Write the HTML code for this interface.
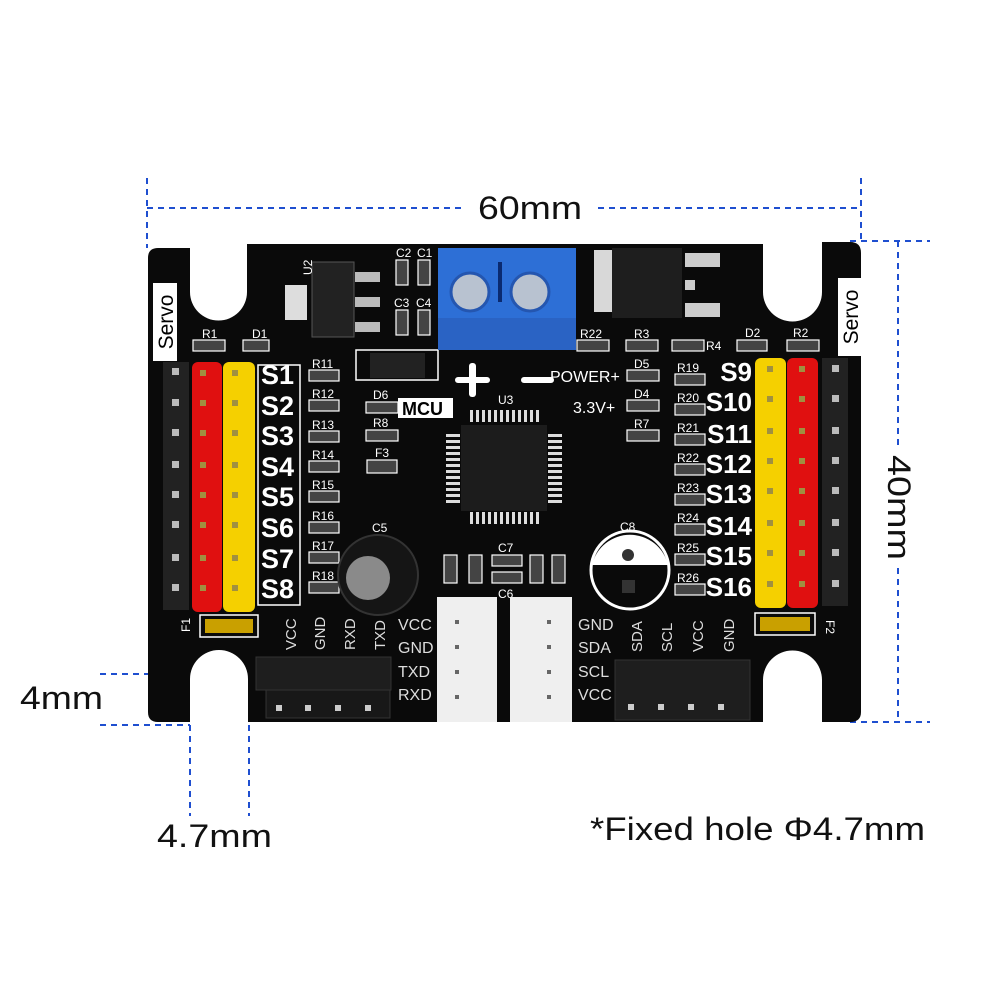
<!DOCTYPE html>
<html><head><meta charset="utf-8"><style>
html,body{margin:0;padding:0;background:#fff;}
svg{display:block;}
text{font-family:"Liberation Sans",sans-serif;}
</style></head><body>
<svg width="1000" height="1000" viewBox="0 0 1000 1000" xmlns="http://www.w3.org/2000/svg">
<rect width="1000" height="1000" fill="#fff"/>
<!-- dimension lines -->
<g stroke="#1f4fd0" stroke-width="2" stroke-dasharray="6,5" fill="none">
<line x1="147" y1="178" x2="147" y2="248"/>
<line x1="861" y1="178" x2="861" y2="242"/>
<line x1="147" y1="208" x2="462" y2="208"/>
<line x1="598" y1="208" x2="861" y2="208"/>
<line x1="850" y1="241" x2="930" y2="241"/>
<line x1="850" y1="722" x2="930" y2="722"/>
<line x1="898" y1="241" x2="898" y2="450"/>
<line x1="898" y1="568" x2="898" y2="722"/>
<line x1="100" y1="674" x2="190" y2="674"/>
<line x1="100" y1="725" x2="190" y2="725"/>
<line x1="190" y1="725" x2="190" y2="816"/>
<line x1="249" y1="725" x2="249" y2="816"/>
</g>
<g fill="#111" font-size="32">
<text x="478" y="219" textLength="104" lengthAdjust="spacingAndGlyphs">60mm</text>
<text x="20" y="709" textLength="83" lengthAdjust="spacingAndGlyphs">4mm</text>
<text x="157" y="847" textLength="115" lengthAdjust="spacingAndGlyphs">4.7mm</text>
<text x="590" y="840" textLength="335" lengthAdjust="spacingAndGlyphs">*Fixed hole Φ4.7mm</text>
<text transform="translate(888,455) rotate(90)" textLength="105" lengthAdjust="spacingAndGlyphs">40mm</text>
</g>
<!-- board -->
<path d="M158,248 H190 V292 A28,28 0 0 0 247,292 V244 H763 V292 A29.5,29.5 0 0 0 822,292 V242 H850 Q861,242 861,253 V712 Q861,722 850,722 H822 V680 A29.5,29.5 0 0 0 763,680 V722 H248 V679 A29,29 0 0 0 190,679 V722 H158 Q148,722 148,712 V258 Q148,248 158,248 Z" fill="#0a0a0a"/>
<!-- servo labels -->
<rect x="153" y="283" width="24" height="78" fill="#fff"/>
<text transform="translate(173,322) rotate(-90)" text-anchor="middle" font-size="21" fill="#000">Servo</text>
<rect x="838" y="278" width="24" height="78" fill="#fff"/>
<text transform="translate(858,317) rotate(-90)" text-anchor="middle" font-size="21" fill="#000">Servo</text>
<!-- left headers -->
<rect x="163" y="362" width="26" height="248" fill="#222"/>
<rect x="192" y="362" width="30" height="250" rx="6" fill="#e01010"/>
<rect x="223" y="362" width="32" height="250" rx="6" fill="#f5d000"/>
<g fill="#bbb">
<rect x="172" y="368" width="7" height="7"/><rect x="172" y="399" width="7" height="7"/><rect x="172" y="429" width="7" height="7"/><rect x="172" y="461" width="7" height="7"/><rect x="172" y="491" width="7" height="7"/><rect x="172" y="521" width="7" height="7"/><rect x="172" y="554" width="7" height="7"/><rect x="172" y="584" width="7" height="7"/>
</g>
<g fill="#a09040">
<rect x="200" y="370" width="6" height="6"/><rect x="200" y="400" width="6" height="6"/><rect x="200" y="430" width="6" height="6"/><rect x="200" y="462" width="6" height="6"/><rect x="200" y="492" width="6" height="6"/><rect x="200" y="522" width="6" height="6"/><rect x="200" y="555" width="6" height="6"/><rect x="200" y="585" width="6" height="6"/>
<rect x="232" y="370" width="6" height="6"/><rect x="232" y="400" width="6" height="6"/><rect x="232" y="430" width="6" height="6"/><rect x="232" y="462" width="6" height="6"/><rect x="232" y="492" width="6" height="6"/><rect x="232" y="522" width="6" height="6"/><rect x="232" y="555" width="6" height="6"/><rect x="232" y="585" width="6" height="6"/>
</g>
<g fill="#fff" font-size="27" font-weight="bold">
<text x="261" y="384">S1</text><text x="261" y="415">S2</text><text x="261" y="445">S3</text><text x="261" y="476">S4</text><text x="261" y="506">S5</text><text x="261" y="537">S6</text><text x="261" y="568">S7</text><text x="261" y="598">S8</text>
</g>
<g stroke="#fff" stroke-width="1.5" fill="none"><rect x="258" y="365" width="42" height="240"/></g>
<!-- right headers -->
<rect x="755" y="358" width="31" height="250" rx="6" fill="#f5d000"/>
<rect x="787" y="358" width="31" height="250" rx="6" fill="#e01010"/>
<rect x="822" y="358" width="26" height="248" fill="#222"/>
<g fill="#bbb">
<rect x="832" y="365" width="7" height="7"/><rect x="832" y="395" width="7" height="7"/><rect x="832" y="427" width="7" height="7"/><rect x="832" y="457" width="7" height="7"/><rect x="832" y="487" width="7" height="7"/><rect x="832" y="519" width="7" height="7"/><rect x="832" y="549" width="7" height="7"/><rect x="832" y="580" width="7" height="7"/>
</g>
<g fill="#a09040">
<rect x="767" y="366" width="6" height="6"/><rect x="767" y="396" width="6" height="6"/><rect x="767" y="428" width="6" height="6"/><rect x="767" y="458" width="6" height="6"/><rect x="767" y="488" width="6" height="6"/><rect x="767" y="520" width="6" height="6"/><rect x="767" y="550" width="6" height="6"/><rect x="767" y="581" width="6" height="6"/>
<rect x="799" y="366" width="6" height="6"/><rect x="799" y="396" width="6" height="6"/><rect x="799" y="428" width="6" height="6"/><rect x="799" y="458" width="6" height="6"/><rect x="799" y="488" width="6" height="6"/><rect x="799" y="520" width="6" height="6"/><rect x="799" y="550" width="6" height="6"/><rect x="799" y="581" width="6" height="6"/>
</g>
<g fill="#fff" font-size="26" font-weight="bold" text-anchor="end">
<text x="752" y="381">S9</text><text x="752" y="411">S10</text><text x="752" y="443">S11</text><text x="752" y="473">S12</text><text x="752" y="503">S13</text><text x="752" y="535">S14</text><text x="752" y="565">S15</text><text x="752" y="596">S16</text>
</g>
<!-- resistors -->
<g fill="#444" stroke="#fff" stroke-width="1.2">
<rect x="309" y="370" width="30" height="11"/><rect x="309" y="400" width="30" height="11"/><rect x="309" y="431" width="30" height="11"/><rect x="309" y="461" width="30" height="11"/><rect x="309" y="491" width="30" height="11"/><rect x="309" y="522" width="30" height="11"/><rect x="309" y="552" width="30" height="11"/><rect x="309" y="582" width="30" height="11"/>
<rect x="675" y="374" width="30" height="11"/><rect x="675" y="404" width="30" height="11"/><rect x="675" y="434" width="30" height="11"/><rect x="675" y="464" width="30" height="11"/><rect x="675" y="494" width="30" height="11"/><rect x="675" y="524" width="30" height="11"/><rect x="675" y="554" width="30" height="11"/><rect x="675" y="584" width="30" height="11"/>
<rect x="193" y="340" width="32" height="11"/><rect x="243" y="340" width="26" height="11"/>
<rect x="737" y="340" width="30" height="11"/><rect x="787" y="340" width="32" height="11"/>
<rect x="577" y="340" width="32" height="11"/><rect x="626" y="340" width="32" height="11"/><rect x="672" y="340" width="32" height="11"/>
<rect x="627" y="370" width="32" height="11"/><rect x="627" y="400" width="32" height="11"/><rect x="627" y="430" width="32" height="11"/>
<rect x="366" y="402" width="32" height="11"/><rect x="366" y="430" width="32" height="11"/><rect x="367" y="460" width="30" height="13"/>
<rect x="396" y="260" width="12" height="25"/><rect x="418" y="260" width="12" height="25"/><rect x="396" y="310" width="12" height="25"/><rect x="418" y="310" width="12" height="25"/>
<rect x="444" y="555" width="13" height="28"/><rect x="469" y="555" width="13" height="28"/><rect x="530" y="555" width="13" height="28"/><rect x="552" y="555" width="13" height="28"/>
<rect x="492" y="555" width="30" height="11"/><rect x="492" y="572" width="30" height="11"/>
</g>
<g fill="#fff" font-size="12">
<text x="312" y="368">R11</text><text x="312" y="398">R12</text><text x="312" y="429">R13</text><text x="312" y="459">R14</text><text x="312" y="489">R15</text><text x="312" y="520">R16</text><text x="312" y="550">R17</text><text x="312" y="580">R18</text>
<text x="677" y="372">R19</text><text x="677" y="402">R20</text><text x="677" y="432">R21</text><text x="677" y="462">R22</text><text x="677" y="492">R23</text><text x="677" y="522">R24</text><text x="677" y="552">R25</text><text x="677" y="582">R26</text>
<text x="202" y="338">R1</text><text x="252" y="338">D1</text><text x="745" y="337">D2</text><text x="793" y="337">R2</text>
<text x="580" y="338">R22</text><text x="634" y="338">R3</text><text x="706" y="350">R4</text>
<text x="634" y="368">D5</text><text x="634" y="398">D4</text><text x="634" y="428">R7</text>
<text x="373" y="399">D6</text><text x="373" y="427">R8</text><text x="375" y="457">F3</text>
<text x="396" y="257">C2</text><text x="417" y="257">C1</text><text x="394" y="307">C3</text><text x="416" y="307">C4</text>
<text x="498" y="404">U3</text><text x="372" y="532">C5</text><text x="620" y="531">C8</text>
<text x="498" y="552">C7</text><text x="498" y="598">C6</text>
</g>
<g fill="#fff" font-size="16">
<text x="550" y="382">POWER+</text><text x="573" y="413">3.3V+</text>
</g>
<rect x="398" y="398" width="55" height="20" fill="#fff"/>
<text x="402" y="415" font-size="18" font-weight="bold" fill="#000">MCU</text>
<rect x="455" y="377" width="35" height="6" rx="3" fill="#fff"/><rect x="469" y="363" width="7" height="34" rx="3" fill="#fff"/>
<rect x="521" y="377" width="33" height="6" rx="3" fill="#fff"/>
<!-- U2 -->
<rect x="285" y="285" width="22" height="35" fill="#ddd"/>
<rect x="312" y="262" width="42" height="75" fill="#222" stroke="#555"/>
<rect x="355" y="272" width="25" height="10" fill="#bbb"/><rect x="355" y="297" width="25" height="10" fill="#bbb"/><rect x="355" y="322" width="25" height="10" fill="#bbb"/>
<text transform="translate(312,275) rotate(-90)" fill="#fff" font-size="12">U2</text>
<rect x="356" y="350" width="82" height="30" fill="none" stroke="#fff" stroke-width="1.5"/>
<rect x="370" y="353" width="55" height="25" fill="#222"/>
<!-- terminal block -->
<rect x="438" y="248" width="138" height="102" fill="#2d6fd6"/>
<rect x="438" y="318" width="138" height="32" fill="#2a63c4"/>
<circle cx="470" cy="292" r="19" fill="#b8c2d0" stroke="#2456b0" stroke-width="3"/>
<circle cx="530" cy="292" r="19" fill="#b8c2d0" stroke="#2456b0" stroke-width="3"/>
<rect x="498" y="262" width="4" height="40" fill="#0a2a70"/>
<!-- Q1 -->
<rect x="594" y="250" width="20" height="62" fill="#d8d8d8"/>
<rect x="612" y="248" width="70" height="70" fill="#1e1e1e"/>
<rect x="685" y="253" width="35" height="14" fill="#ccc"/><rect x="685" y="280" width="10" height="10" fill="#ccc"/><rect x="685" y="303" width="35" height="14" fill="#ccc"/>
<!-- U3 chip -->
<g fill="#ddd">
<rect x="470" y="410" width="3" height="12"/><rect x="476" y="410" width="3" height="12"/><rect x="482" y="410" width="3" height="12"/><rect x="488" y="410" width="3" height="12"/><rect x="494" y="410" width="3" height="12"/><rect x="500" y="410" width="3" height="12"/><rect x="506" y="410" width="3" height="12"/><rect x="512" y="410" width="3" height="12"/><rect x="518" y="410" width="3" height="12"/><rect x="524" y="410" width="3" height="12"/><rect x="530" y="410" width="3" height="12"/><rect x="536" y="410" width="3" height="12"/>
<rect x="470" y="512" width="3" height="12"/><rect x="476" y="512" width="3" height="12"/><rect x="482" y="512" width="3" height="12"/><rect x="488" y="512" width="3" height="12"/><rect x="494" y="512" width="3" height="12"/><rect x="500" y="512" width="3" height="12"/><rect x="506" y="512" width="3" height="12"/><rect x="512" y="512" width="3" height="12"/><rect x="518" y="512" width="3" height="12"/><rect x="524" y="512" width="3" height="12"/><rect x="530" y="512" width="3" height="12"/><rect x="536" y="512" width="3" height="12"/>
<rect x="446" y="434" width="14" height="3"/><rect x="446" y="440" width="14" height="3"/><rect x="446" y="446" width="14" height="3"/><rect x="446" y="452" width="14" height="3"/><rect x="446" y="458" width="14" height="3"/><rect x="446" y="464" width="14" height="3"/><rect x="446" y="470" width="14" height="3"/><rect x="446" y="476" width="14" height="3"/><rect x="446" y="482" width="14" height="3"/><rect x="446" y="488" width="14" height="3"/><rect x="446" y="494" width="14" height="3"/><rect x="446" y="500" width="14" height="3"/>
<rect x="548" y="434" width="14" height="3"/><rect x="548" y="440" width="14" height="3"/><rect x="548" y="446" width="14" height="3"/><rect x="548" y="452" width="14" height="3"/><rect x="548" y="458" width="14" height="3"/><rect x="548" y="464" width="14" height="3"/><rect x="548" y="470" width="14" height="3"/><rect x="548" y="476" width="14" height="3"/><rect x="548" y="482" width="14" height="3"/><rect x="548" y="488" width="14" height="3"/><rect x="548" y="494" width="14" height="3"/><rect x="548" y="500" width="14" height="3"/>
</g>
<rect x="461" y="425" width="86" height="86" fill="#1c1c1c"/>
<!-- C5 -->
<circle cx="378" cy="575" r="40" fill="#151515" stroke="#333" stroke-width="2"/>
<circle cx="368" cy="578" r="22" fill="#8a8a8a"/>
<!-- C8 -->
<circle cx="630" cy="570" r="39" fill="#0a0a0a" stroke="#fff" stroke-width="3"/>
<path d="M592,565 A39,39 0 0 1 668,565 Z" fill="#fff"/>
<circle cx="628" cy="555" r="6" fill="#333"/><rect x="622" y="580" width="13" height="13" fill="#333"/>
<!-- white connectors -->
<rect x="437" y="597" width="60" height="125" fill="#efefef"/>
<rect x="510" y="597" width="62" height="125" fill="#efefef"/>
<g fill="#666"><rect x="455" y="620" width="4" height="4"/><rect x="455" y="645" width="4" height="4"/><rect x="455" y="670" width="4" height="4"/><rect x="455" y="695" width="4" height="4"/>
<rect x="547" y="620" width="4" height="4"/><rect x="547" y="645" width="4" height="4"/><rect x="547" y="670" width="4" height="4"/><rect x="547" y="695" width="4" height="4"/></g>
<g fill="#ddd" font-size="16">
<text x="398" y="630">VCC</text><text x="398" y="653">GND</text><text x="398" y="677">TXD</text><text x="398" y="700">RXD</text>
<text x="578" y="630">GND</text><text x="578" y="653">SDA</text><text x="578" y="677">SCL</text><text x="578" y="700">VCC</text>
</g>
<g fill="#ddd" font-size="15">
<text transform="translate(296,650) rotate(-90)">VCC</text><text transform="translate(325,650) rotate(-90)">GND</text><text transform="translate(355,650) rotate(-90)">RXD</text><text transform="translate(385,650) rotate(-90)">TXD</text>
<text transform="translate(642,652) rotate(-90)">SDA</text><text transform="translate(672,652) rotate(-90)">SCL</text><text transform="translate(703,652) rotate(-90)">VCC</text><text transform="translate(734,652) rotate(-90)">GND</text>
</g>
<rect x="200" y="615" width="58" height="22" fill="none" stroke="#fff" stroke-width="1.5"/>
<rect x="205" y="619" width="48" height="14" fill="#c9a000"/>
<rect x="755" y="613" width="60" height="22" fill="none" stroke="#fff" stroke-width="1.5"/>
<rect x="760" y="617" width="50" height="14" fill="#c9a000"/>
<text transform="translate(190,632) rotate(-90)" fill="#fff" font-size="12">F1</text>
<text transform="translate(826,620) rotate(90)" fill="#fff" font-size="12">F2</text>
<!-- bottom headers -->
<rect x="256" y="657" width="135" height="33" fill="#1e1e1e" stroke="#333"/>
<rect x="266" y="690" width="124" height="28" fill="#181818" stroke="#333"/>
<rect x="615" y="660" width="135" height="60" fill="#1e1e1e" stroke="#333"/>
<g fill="#ccc"><rect x="276" y="705" width="6" height="6"/><rect x="305" y="705" width="6" height="6"/><rect x="335" y="705" width="6" height="6"/><rect x="365" y="705" width="6" height="6"/>
<rect x="628" y="704" width="6" height="6"/><rect x="658" y="704" width="6" height="6"/><rect x="688" y="704" width="6" height="6"/><rect x="718" y="704" width="6" height="6"/></g>
</svg>
</body></html>
